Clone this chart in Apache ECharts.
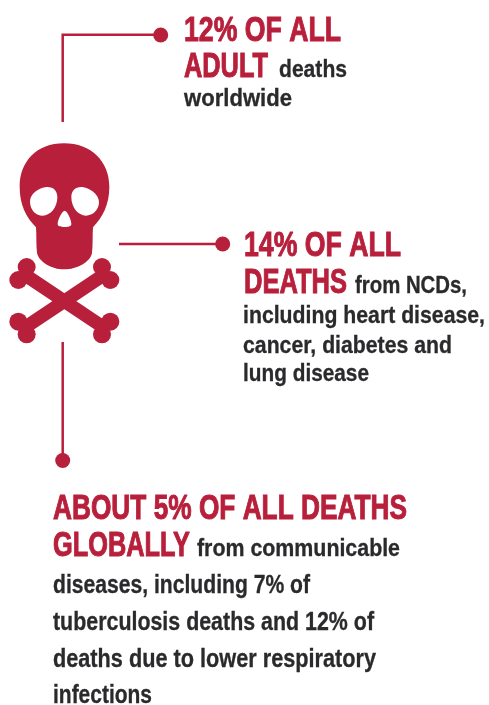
<!DOCTYPE html>
<html><head><meta charset="utf-8">
<style>html,body{margin:0;padding:0;background:#fff}#c{width:489px;height:705px}</style>
<script src="https://cdn.jsdelivr.net/npm/echarts@6/dist/echarts.min.js"></script>
</head><body><div id="c"></div>
<script>
const RED = '#b81f3b', INK = '#2a2a2c';
const headlineTexts = ['12% OF ALL', 'ADULT', '14% OF ALL', 'DEATHS', 'ABOUT 5% OF ALL DEATHS', 'GLOBALLY'];
const bodyTexts = ['deaths', 'worldwide', 'from NCDs,', 'including heart disease,', 'cancer, diabetes and', 'lung disease',
  'from communicable', 'diseases, including 7% of', 'tuberculosis deaths and 12% of', 'deaths due to lower respiratory', 'infections'];

// layout, separate from the text: [left, baseline, right]
const headlineBoxes = [[184,43,341],[184,79,268],[244,258,401],[244,295,347],[53,521,407],[53,558,190]];
const bodyBoxes = [[279,78,347],[184,107,292],[355,294,467],[243,324,485],[243,354,452],[243,382,369],
  [197,557,400],[53,594,310],[53,631,374],[53,668,376],[53,704,152]];
const FAMILY = '"Liberation Sans Narrow","Liberation Sans",sans-serif';
const ctx = document.createElement('canvas').getContext('2d');

function textEl(text, box, size, fill, extra) {
  const font = 'bold ' + size + 'px ' + FAMILY;
  ctx.font = font;
  const w = ctx.measureText(text).width;
  return {
    type: 'text', x: box[0], y: box[1] - size * 0.33, scaleX: (box[2] - box[0]) / w, silent: true,
    style: Object.assign({ text, x: 0, y: 0, font, fill, textAlign: 'left', textVerticalAlign: 'middle' }, extra || {})
  };
}

const skullPath = 'M192 70C110 70 59 125 59 200C59 255 78 290 108 322C110 345 108 375 111 398C116 425 155 448 192 448C232 448 272 425 276 398C279 375 277 345 279 322C308 290 328 255 328 200C328 125 274 70 192 70Z';
const holesPath = 'M140 201C115 203 90 222 90 245C90 270 108 287 128 287C152 287 172 262 172 232C172 212 160 200 140 201Z'
 + 'M246 201C268 203 297 222 297 247C297 270 278 287 258 287C234 287 214 262 214 232C214 212 226 200 246 201Z'
 + 'M194 272C186 272 173 300 173 312C173 319 182 321 194 321C206 321 214 319 214 312C214 300 202 272 194 272Z';
echarts.graphic.registerShape('skullOutline', echarts.graphic.extendPath(skullPath));
echarts.graphic.registerShape('skullHoles', echarts.graphic.extendPath(holesPath));

function boneEnd(x1,y1,x2,y2){ return [
  {type:'circle',shape:{cx:x1,cy:y1,r:27},style:{fill:RED}},
  {type:'circle',shape:{cx:x2,cy:y2,r:27},style:{fill:RED}}]; }

const icon = {
  type:'group', x:0, y:120, scaleX:1/3, scaleY:1/3, silent:true,
  children:[
    {type:'skullOutline',style:{fill:RED}},
    {type:'skullHoles',style:{fill:'#fff'}},
    {type:'line',shape:{x1:68,y1:460,x2:318,y2:627},style:{stroke:RED,lineWidth:40}},
    {type:'line',shape:{x1:318,y1:460,x2:68,y2:627},style:{stroke:RED,lineWidth:40}},
    ...boneEnd(80,441,55,480), ...boneEnd(306,441,331,480),
    ...boneEnd(55,605,80,643), ...boneEnd(331,605,306,643)
  ]
};

const leaderStyle = {stroke:RED,lineWidth:2.5,fill:'none'};
const leaders = [
  {type:'polyline',shape:{points:[[62.7,122],[62.7,34.7],[160,34.7]]},style:leaderStyle,silent:true},
  {type:'circle',shape:{cx:160.7,cy:35,r:7.5},style:{fill:RED},silent:true},
  {type:'line',shape:{x1:119,y1:244,x2:222,y2:244},style:leaderStyle,silent:true},
  {type:'circle',shape:{cx:222.7,cy:244,r:7.5},style:{fill:RED},silent:true},
  {type:'line',shape:{x1:62.7,y1:342,x2:62.7,y2:460},style:leaderStyle,silent:true},
  {type:'circle',shape:{cx:62.7,cy:460.5,r:7.5},style:{fill:RED},silent:true}
];

const texts = [
  ...headlineTexts.map((t,i)=>textEl(t,headlineBoxes[i],35,RED,{stroke:RED,lineWidth:1})),
  ...bodyTexts.map((t,i)=>textEl(t,bodyBoxes[i],i>=7?25:24,INK,{stroke:INK,lineWidth:0.3}))
];

const chart = echarts.init(document.getElementById('c'),null,{renderer:'canvas',width:489,height:705});
chart.setOption({
  animation:false, backgroundColor:'#fff',
  graphic:{elements:[icon,...leaders,...texts]}
});
</script></body></html>
